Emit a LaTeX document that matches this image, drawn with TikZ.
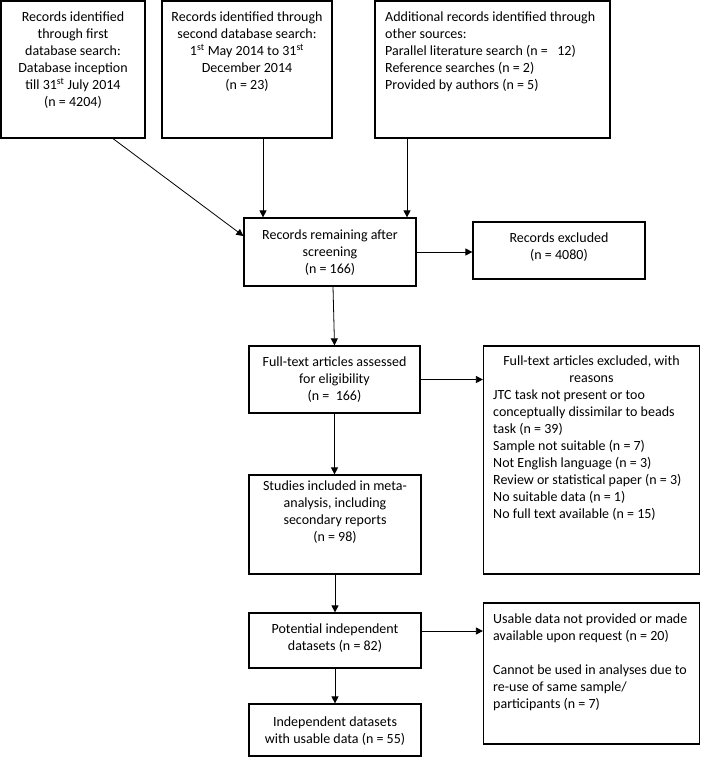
\documentclass[tikz,border=0pt]{standalone}
\usepackage{fontspec}
\setmainfont{Carlito}
\usetikzlibrary{arrows.meta}

\begin{document}
\begin{tikzpicture}[x=1pt,y=-1pt,
  box/.style={draw,line width=1.2pt,inner sep=0pt},
  txt/.style={inner sep=0pt,font=\fontsize{14}{17}\selectfont,execute at begin node={\strut}},
  arr/.style={line width=0.8pt,-{Triangle[length=7pt,width=7pt]}}]
\useasboundingbox (0,0) rectangle (701,757);
\draw (73,69.5) node[box,minimum width=144pt,minimum height=137pt](first) {};
\draw (247,69.5) node[box,minimum width=170pt,minimum height=137pt](second) {};
\draw (492.5,69.5) node[box,minimum width=235pt,minimum height=137pt](other) {};
\draw (330,252) node[box,minimum width=172pt,minimum height=68pt](screen) {};
\draw (559,250.5) node[box,minimum width=172pt,minimum height=57pt](excl) {};
\draw (334.5,379.5) node[box,minimum width=171pt,minimum height=67pt](full) {};
\draw (591.5,460) node[box,minimum width=216pt,minimum height=228pt](fullexcl) {};
\draw (335,524.5) node[box,minimum width=172pt,minimum height=99pt](studies) {};
\draw (335,640.5) node[box,minimum width=172pt,minimum height=55pt](potential) {};
\draw (591.5,673.5) node[box,minimum width=216pt,minimum height=141pt](unusable) {};
\draw (335,730) node[box,minimum width=172pt,minimum height=52pt](indep) {};
\draw (73,12) node[txt,anchor=north,align=center] {Records identified\\through first\\database search:\\Database inception\\till 31\textsuperscript{st} July 2014\\(n = 4204)};
\draw (247,12) node[txt,anchor=north,align=center] {Records identified through\\second database search:\\1\textsuperscript{st} May 2014 to 31\textsuperscript{st}\\December 2014\\(n = 23)};
\draw (385,12) node[txt,anchor=north west,align=left] {Additional records identified through\\other sources:\\Parallel literature search (n = \ \ 12)\\Reference searches (n = 2)\\Provided by authors (n = 5)};
\draw (330,229.8) node[txt,anchor=north,align=center] {Records remaining after\\screening\\(n = 166)};
\draw (559,233) node[txt,anchor=north,align=center] {Records excluded\\(n = 4080)};
\draw (334.5,356.4) node[txt,anchor=north,align=center] {Full-text articles assessed\\for eligibility\\(n = \ 166)};
\draw (591.5,356) node[txt,anchor=north,align=center] {Full-text articles excluded, with\\reasons};
\draw (493,390) node[txt,anchor=north west,align=left] {JTC task not present or too\\conceptually dissimilar to beads\\task (n = 39)\\Sample not suitable (n = 7)\\Not English language (n = 3)\\Review or statistical paper (n = 3)\\No suitable data (n = 1)\\No full text available (n = 15)};
\draw (335,480.8) node[txt,anchor=north,align=center] {Studies included in meta-\\analysis, including\\secondary reports\\(n = 98)};
\draw (335,624) node[txt,anchor=north,align=center] {Potential independent\\datasets (n = 82)};
\draw (493,614) node[txt,anchor=north west,align=left] {Usable data not provided or made\\available upon request (n = 20)\\[17pt]Cannot be used in analyses due to\\re-use of same sample/\\participants (n = 7)};
\draw (335,716.4) node[txt,anchor=north,align=center] {Independent datasets\\with usable data (n = 55)};
\draw[arr] ([xshift=40pt]first.south) -- ([yshift=16pt]screen.west);
\draw[arr] ([xshift=16pt]second.south) -- ([xshift=16pt]second.south |- screen.north);
\draw[arr] ([xshift=-85.5pt]other.south) -- ([xshift=-85.5pt]other.south |- screen.north);
\draw[arr] (screen.east) -- (screen.east -| excl.west);
\draw[arr] ([xshift=3pt]screen.south) -- (full.north);
\draw[arr] (full.east) -- (full.east -| fullexcl.west);
\draw[arr] (full.south) -- (full.south |- studies.north);
\draw[arr] (studies.south) -- (potential.north);
\draw[arr] ([yshift=9.5pt]potential.east) -- ([yshift=9.5pt]potential.east -| unusable.west);
\draw[arr] (potential.south) -- (indep.north);
\end{tikzpicture}
\end{document}
